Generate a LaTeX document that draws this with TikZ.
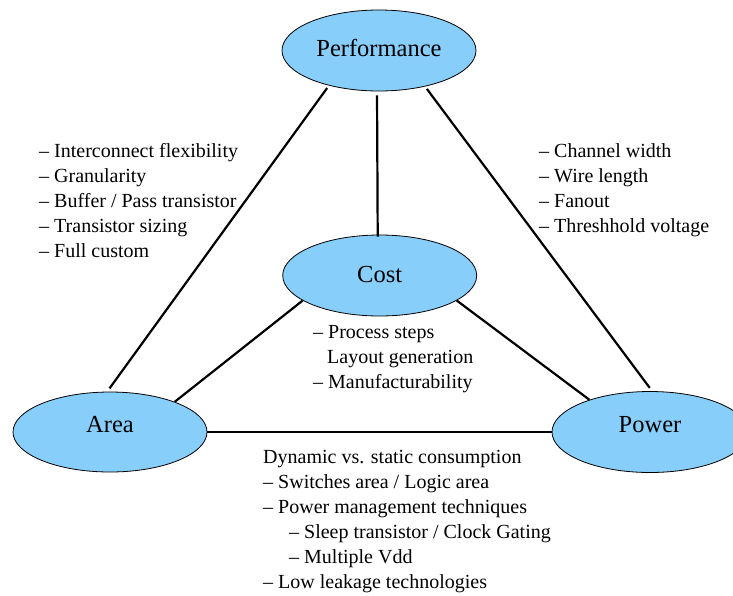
\documentclass[tikz,border=0pt]{standalone}
\usepackage{fontspec}
\setmainfont{Liberation Serif}
\usetikzlibrary{shapes.geometric}
\definecolor{ellfill}{RGB}{135,206,250}
\begin{document}
\begin{tikzpicture}[x=1pt,y=-1pt,
  ell/.style={ellipse, draw=black, line width=0.8pt, fill=ellfill,
    minimum width=194pt, minimum height=81pt, inner sep=0pt,
    text height=17pt, text depth=6pt,
    font=\fontsize{24.5}{29}\selectfont},
  conn/.style={line width=2.2pt},
  lst/.style={anchor=base west, align=left, inner sep=0pt,
    font=\fontsize{20}{25}\selectfont}]
\useasboundingbox (0,0) rectangle (733,595);
\clip (0,0) rectangle (733,595);
\node[ell] (perf) at (379,50.5) {\raisebox{-0.7pt}{Performance}};
\node[ell] (cost) at (379.7,275.5) {\raisebox{-1.7pt}{Cost}};
\node[ell, minimum height=80pt] (area) at (110,432) {\raisebox{4.8pt}{Area}};
\node[ell, minimum width=196pt] (power) at (650,432) {\raisebox{4.8pt}{Power}};

\draw[conn, shorten <=3pt, shorten >=4pt] (perf.215) -- (area.94);
\draw[conn, shorten <=4pt, shorten >=-2pt] ([xshift=-2pt]perf.south) -- ([xshift=-2pt]cost.north);
\draw[conn, shorten <=3pt, shorten >=4pt] (perf.322) -- (power.87);
\draw[conn] (cost.198) -- (area.25);
\draw[conn] (cost.342) -- (power.152);
\draw[conn] (area.east) -- (power.west);

\node[lst] (perfarea) at (39,257) {– Interconnect flexibility\\– Granularity\\– Buffer / Pass transistor\\– Transistor sizing\\– Full custom};
\node[lst] (perfpower) at (539,232) {– Channel width\\– Wire length\\– Fanout\\– Threshhold voltage};
\node[lst] (costtxt) at (313,388) {– Process steps\\\hspace*{14pt}Layout generation\\– Manufacturability};
\node[lst] (areapower) at (263,588) {Dynamic vs. static consumption\\– Switches area / Logic area\\– Power management techniques\\\hspace*{26pt}– Sleep transistor / Clock Gating\\\hspace*{26pt}– Multiple Vdd\\– Low leakage technologies};
\end{tikzpicture}
\end{document}
